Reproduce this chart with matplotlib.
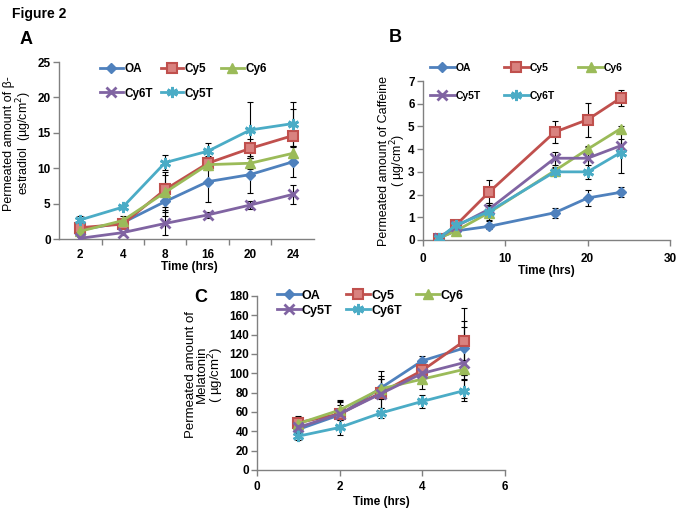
import matplotlib
matplotlib.use("Agg")
import matplotlib.pyplot as plt
import numpy as np

plt.rcParams['font.family'] = ['Liberation Sans', 'DejaVu Sans']

# ---------------- data ----------------
# Panel A (beta-estradiol), categorical time axis
a_labels = ['2', '4', '8', '16', '20', '24']
a_series = ['OA', 'Cy5', 'Cy6', 'Cy6T', 'Cy5T']
a_OA   = [1.3, 2.3, 5.3, 8.1, 9.1, 10.9]
a_Cy5  = [1.6, 2.1, 7.0, 10.7, 12.8, 14.6]
a_Cy6  = [1.1, 2.6, 6.6, 10.5, 10.7, 12.1]
a_Cy6T = [0.1, 0.9, 2.2, 3.4, 4.8, 6.3]
a_Cy5T = [2.7, 4.5, 10.8, 12.4, 15.4, 16.3]
a_err_OA   = [0.5, 0.4, 2.0, 2.9, 2.6, 2.1]
a_err_Cy5  = [0.5, 0.5, 2.5, 1.0, 1.3, 3.8]
a_err_Cy6  = [0.3, 0.6, 2.5, 0.6, 0.8, 1.0]
a_err_Cy6T = [0.2, 0.3, 1.6, 0.4, 0.5, 1.3]
a_err_Cy5T = [0.6, 0.3, 1.1, 1.1, 3.9, 3.1]

# Panel B (caffeine), numeric time axis
b_time = [2, 4, 8, 16, 20, 24]
b_OA   = [0.1, 0.4, 0.6, 1.2, 1.85, 2.1]
b_Cy5  = [0.05, 0.65, 2.1, 4.75, 5.3, 6.25]
b_Cy6  = [0.1, 0.4, 1.2, 3.05, 4.0, 4.9]
b_Cy5T = [0.1, 0.6, 1.35, 3.6, 3.6, 4.15]
b_Cy6T = [0.1, 0.65, 1.25, 3.0, 3.0, 3.85]
b_err_OA   = [0.05, 0.1, 0.1, 0.22, 0.35, 0.22]
b_err_Cy5  = [0.05, 0.2, 0.55, 0.5, 0.75, 0.37]
b_err_Cy6  = [0.05, 0.1, 0.3, 0.15, 0.15, 0.12]
b_err_Cy5T = [0.05, 0.1, 0.3, 0.28, 0.5, 0.3]
b_err_Cy6T = [0.05, 0.1, 0.4, 0.15, 0.3, 0.9]

# Panel C (melatonin)
c_time = [1, 2, 3, 4, 5]
c_OA   = [42, 57, 85, 113, 126]
c_Cy5  = [49, 58, 80, 103, 133]
c_Cy6  = [48, 62, 84, 94, 104]
c_Cy5T = [44, 58, 79, 100, 111]
c_Cy6T = [35, 44, 59, 71, 82]
c_err_OA   = [6, 10, 12, 5, 28]
c_err_Cy5  = [7, 13, 22, 12, 35]
c_err_Cy6  = [5, 10, 10, 10, 10]
c_err_Cy5T = [6, 12, 15, 10, 37]
c_err_Cy6T = [4, 8, 5, 7, 11]

# ---------------- styles ----------------
BLUE = '#4F81BD'; RED = '#C0504D'; GREEN = '#9BBB59'; PURPLE = '#8064A2'; CYAN = '#4BACC6'
STAR = (6, 2, 0)
sty = {
    'OA':   dict(color=BLUE, marker='D', ms=5, mfc=BLUE, mec=BLUE),
    'Cy5':  dict(color=RED, marker='s', ms=7, mfc='#D9827F', mec=RED, mew=1.5),
    'Cy6':  dict(color=GREEN, marker='^', ms=7, mfc=GREEN, mec=GREEN),
    'PUR':  dict(color=PURPLE, marker='x', ms=7, mec=PURPLE, mew=2),
    'CYA':  dict(color=CYAN, marker=STAR, ms=8, mec=CYAN, mew=2),
}

fig = plt.figure(figsize=(6.83, 5.09), dpi=100)
W, H = 683.0, 509.0

def axes_px(l, t, r, b):
    return fig.add_axes([l / W, 1 - b / H, (r - l) / W, (b - t) / H])

def style_ax(ax, xpad=2):
    for s in ['top', 'right']:
        ax.spines[s].set_visible(False)
    for s in ['left', 'bottom']:
        ax.spines[s].set_color('#808080')
        ax.spines[s].set_linewidth(1.0)
    ax.tick_params(direction='out', length=4, width=1, color='#808080', labelsize=8.5, pad=2)
    ax.tick_params(axis='x', pad=xpad)
    for lab in ax.get_xticklabels() + ax.get_yticklabels():
        lab.set_fontweight('bold')

def plot_series(ax, x, y, e, key, label):
    s = dict(sty[key])
    ax.errorbar(x, y, yerr=e, fmt='none', ecolor='black', elinewidth=0.8, capsize=2.5, capthick=0.8, zorder=2)
    ax.plot(x, y, lw=2, label=label, zorder=3, **s)

order = [0, 3, 1, 4, 2]

# ---------------- Panel A ----------------
axA = axes_px(59, 62, 314, 239)
xa = np.arange(len(a_labels))
plot_series(axA, xa, a_OA, a_err_OA, 'OA', 'OA')
plot_series(axA, xa, a_Cy5, a_err_Cy5, 'Cy5', 'Cy5')
plot_series(axA, xa, a_Cy6, a_err_Cy6, 'Cy6', 'Cy6')
plot_series(axA, xa, a_Cy6T, a_err_Cy6T, 'PUR', 'Cy6T')
plot_series(axA, xa, a_Cy5T, a_err_Cy5T, 'CYA', 'Cy5T')
axA.set_xlim(-0.5, len(a_labels) - 0.5)
axA.set_ylim(0, 25)
axA.set_yticks([0, 5, 10, 15, 20, 25])
axA.set_xticks(xa)
axA.set_xticklabels(a_labels)
axA.set_xticks(np.arange(0.5, len(a_labels) - 0.5, 1), minor=True)
style_ax(axA, xpad=7)
axA.tick_params(axis='x', which='major', length=0)
axA.tick_params(axis='x', which='minor', length=4, width=1, color='#808080', direction='out')
axA.set_ylabel('Permeated amount of β-\nestradiol  (µg/cm$^2$)', fontsize=9, linespacing=0.9)
axA.yaxis.set_label_coords(-0.1, 0.54)
axA.set_xlabel('Time (hrs)', fontsize=8.5, fontweight='bold')
axA.xaxis.set_label_coords(0.51, -0.125)
h, l = axA.get_legend_handles_labels()
axA.legend([h[i] for i in order], [l[i] for i in order], ncol=3, frameon=False,
           loc='upper left', bbox_to_anchor=(0.143, 1.02), prop={'weight': 'bold', 'size': 8.5},
           handlelength=1.9, handletextpad=0.15, columnspacing=0.65, labelspacing=1.05, borderaxespad=0)

# ---------------- Panel B ----------------
axB = axes_px(423, 81, 670, 240)
plot_series(axB, b_time, b_OA, b_err_OA, 'OA', 'OA')
plot_series(axB, b_time, b_Cy5, b_err_Cy5, 'Cy5', 'Cy5')
plot_series(axB, b_time, b_Cy6, b_err_Cy6, 'Cy6', 'Cy6')
plot_series(axB, b_time, b_Cy5T, b_err_Cy5T, 'PUR', 'Cy5T')
plot_series(axB, b_time, b_Cy6T, b_err_Cy6T, 'CYA', 'Cy6T')
axB.set_xlim(0, 30)
axB.set_ylim(0, 7)
axB.set_xticks([0, 10, 20, 30])
axB.set_yticks(range(0, 8))
style_ax(axB, xpad=5)
axB.set_ylabel('Permeated amount of Caffeine\n( µg/cm$^2$)', fontsize=9, linespacing=0.9)
axB.yaxis.set_label_coords(-0.06, 0.5)
axB.set_xlabel('Time (hrs)', fontsize=8.5, fontweight='bold')
axB.xaxis.set_label_coords(0.5, -0.16)
h, l = axB.get_legend_handles_labels()
axB.legend([h[i] for i in order], [l[i] for i in order], ncol=3, frameon=False,
           loc='upper left', bbox_to_anchor=(0.01, 1.14), prop={'weight': 'bold', 'size': 7.5},
           handlelength=2.4, handletextpad=0.1, columnspacing=2.2, labelspacing=1.75, borderaxespad=0)

# ---------------- Panel C ----------------
axC = axes_px(257, 296, 505, 470)
plot_series(axC, c_time, c_OA, c_err_OA, 'OA', 'OA')
plot_series(axC, c_time, c_Cy5, c_err_Cy5, 'Cy5', 'Cy5')
plot_series(axC, c_time, c_Cy6, c_err_Cy6, 'Cy6', 'Cy6')
plot_series(axC, c_time, c_Cy5T, c_err_Cy5T, 'PUR', 'Cy5T')
plot_series(axC, c_time, c_Cy6T, c_err_Cy6T, 'CYA', 'Cy6T')
axC.set_xlim(0, 6)
axC.set_ylim(0, 180)
axC.set_xticks([0, 2, 4, 6])
axC.set_yticks(range(0, 181, 20))
style_ax(axC, xpad=4)
axC.set_ylabel('Permeated amount of\nMelatonin\n( µg/cm$^2$)', fontsize=9.5, linespacing=0.88)
axC.yaxis.set_label_coords(-0.125, 0.55)
axC.set_xlabel('Time (hrs)', fontsize=8.5, fontweight='bold', labelpad=2)
h, l = axC.get_legend_handles_labels()
axC.legend([h[i] for i in order], [l[i] for i in order], ncol=3, frameon=False,
           loc='upper left', bbox_to_anchor=(0.06, 1.065), prop={'weight': 'bold', 'size': 9},
           handlelength=1.9, handletextpad=0.1, columnspacing=1.1, labelspacing=0.25, borderaxespad=0)

# ---------------- titles ----------------
fig.text(12 / W, 1 - 14 / H, 'Figure 2', fontsize=10, fontweight='bold', va='center', ha='left')
fig.text(20 / W, 1 - 39 / H, 'A', fontsize=13, fontweight='bold', va='center', ha='left')
fig.text(389 / W, 1 - 38 / H, 'B', fontsize=13, fontweight='bold', va='center', ha='left')
fig.text(194 / W, 1 - 297 / H, 'C', fontsize=13, fontweight='bold', va='center', ha='left')

fig.savefig('out.png', dpi=100)
